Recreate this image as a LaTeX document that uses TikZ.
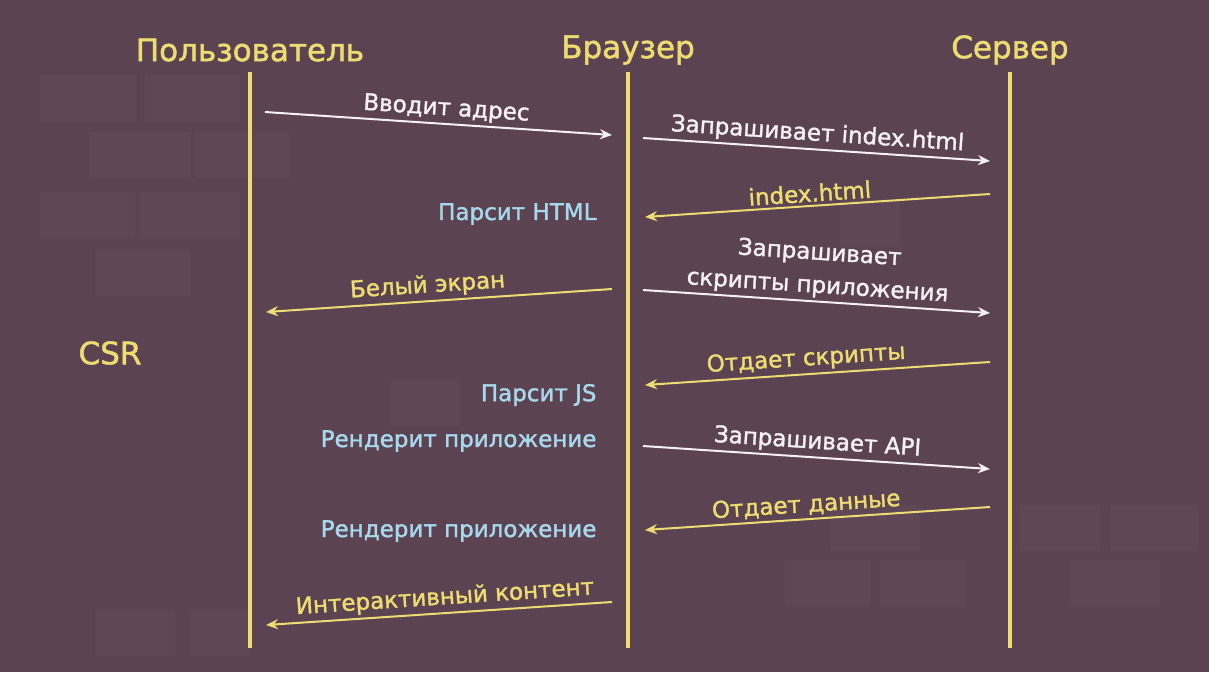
\documentclass[tikz,border=0pt]{standalone}
\usepackage{fontspec}
\setmainfont{DejaVu Sans}[FakeBold=1.5]
\usetikzlibrary{arrows.meta,positioning}
\definecolor{csrBg}{HTML}{5B4352}
\definecolor{csrBrick}{HTML}{5F4756}
\definecolor{csrYellow}{HTML}{EEDC72}
\definecolor{csrBlue}{HTML}{A8D8EC}
\definecolor{csrWhite}{HTML}{F4F0F4}

\begin{document}
\begin{tikzpicture}[x=1pt, y=-1pt,
  actor/.style={text=csrYellow, font=\fontsize{31}{36}\selectfont},
  lifeline/.style={draw=csrYellow, line width=4pt},
  msg/.style={-{Stealth[length=12pt, width=10pt]}, line width=2pt},
  req/.style={msg, draw=csrWhite},
  resp/.style={msg, draw=csrYellow},
  msglabel/.style={sloped, above, font=\fontsize{23}{33}\selectfont, inner sep=3pt},
  note/.style={text=csrBlue, anchor=east, font=\fontsize{23}{28}\selectfont},
  brick/.style={fill=csrBrick}
]
  % background and faint bricks
  \fill[csrBg] (0,0) rectangle (1209,672);
  \useasboundingbox (0,0) rectangle (1209,672);
  \foreach \bx/\by/\bw in {40/75/97, 145/75/95, 90/132/100, 195/132/95, 40/192/95,
      140/192/100, 95/250/95, 390/380/70, 840/200/60, 830/505/90, 1020/505/80,
      1110/505/88, 785/560/85, 880/560/85, 1070/560/90, 95/610/80, 190/610/60}
    \fill[brick] (\bx,\by) rectangle ++(\bw,46);

  % actors
  \node[actor] (user) at (250,50) {Пользователь};
  \node[actor] (browser) at (628,50) {Браузер};
  \node[actor] (server) at (1010,50) {Сервер};
  \node[actor] (csr) at (110,353) {CSR};

  % lifelines
  \coordinate (userTop) at (250,72);
  \coordinate (userBot) at (250,648);
  \coordinate (browserTop) at (628,72);
  \coordinate (browserBot) at (628,648);
  \coordinate (serverTop) at (1010,72);
  \coordinate (serverBot) at (1010,648);
  \draw[lifeline] (userTop) -- (userBot);
  \draw[lifeline] (browserTop) -- (browserBot);
  \draw[lifeline] (serverTop) -- (serverBot);

  % message end points
  \coordinate (addrS) at (265,112);   \coordinate (addrE) at (612,135);
  \coordinate (idxS) at (643,138);    \coordinate (idxE) at (990,161);
  \coordinate (htmlS) at (990,194);   \coordinate (htmlE) at (645,217);
  \coordinate (scrS) at (643,290);    \coordinate (scrE) at (990,313);
  \coordinate (whiteS) at (612,289);  \coordinate (whiteE) at (266,312);
  \coordinate (giveS) at (990,362);   \coordinate (giveE) at (645,385);
  \coordinate (apiS) at (643,446);    \coordinate (apiE) at (990,469);
  \coordinate (dataS) at (990,507);   \coordinate (dataE) at (645,530);
  \coordinate (interS) at (612,602);  \coordinate (interE) at (266,625);

  % messages
  \draw[req] (addrS) -- node[msglabel, pos=0.52, text=csrWhite] {Вводит адрес} (addrE);
  \draw[req] (idxS) -- node[msglabel, text=csrWhite] {Запрашивает index.html} (idxE);
  \draw[resp] (htmlS) -- node[msglabel, pos=0.52, text=csrYellow] {index.html} (htmlE);
  \draw[req] (scrS) -- node[msglabel, align=center, text=csrWhite] {Запрашивает\\скрипты приложения} (scrE);
  \draw[resp] (whiteS) -- node[msglabel, pos=0.53, text=csrYellow] {Белый экран} (whiteE);
  \draw[resp] (giveS) -- node[msglabel, pos=0.53, text=csrYellow] {Отдает скрипты} (giveE);
  \draw[req] (apiS) -- node[msglabel, text=csrWhite] {Запрашивает API} (apiE);
  \draw[resp] (dataS) -- node[msglabel, pos=0.53, text=csrYellow] {Отдает данные} (dataE);
  \draw[resp] (interS) -- node[msglabel, pos=0.48, text=csrYellow] {Интерактивный контент} (interE);

  % browser notes
  \node[note] (parseHtml) at (600,214) {Парсит HTML};
  \node[note] (parseJs) at (600,395) {Парсит JS};
  \node[note] (renderA) at (600,441) {Рендерит приложение};
  \node[note] (renderB) at (600,531) {Рендерит приложение};
\end{tikzpicture}
\end{document}
